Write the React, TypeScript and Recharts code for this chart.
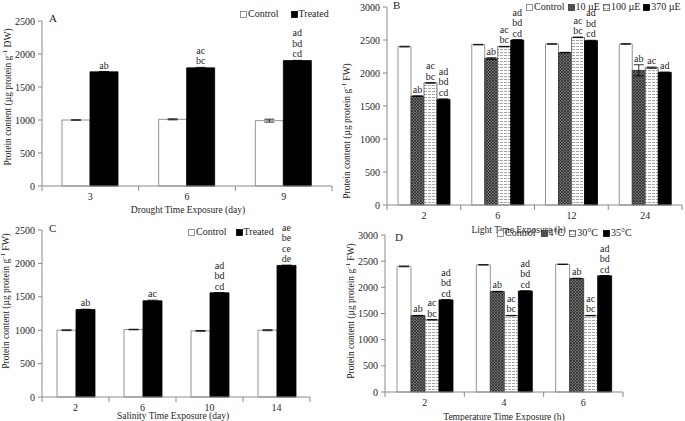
import React from 'react';
import { BarChart, Bar, XAxis, YAxis, ErrorBar, LabelList } from 'recharts';

const FONT = '"Liberation Serif", "Times New Roman", serif';
const AXIS = '#8a8a8a';
const INK = '#262626';

// A - drought
const droughtDays = ['3', '6', '9'];
const droughtControl = [1000, 1010, 990];
const droughtTreated = [1730, 1790, 1900];
const droughtControlErr = [4, 8, 22];
const droughtTreatedErr = [4, 8, 4];
const droughtMarks = ['ab', 'ac\nbc', 'ad\nbd\ncd'];

// B - light
const lightHours = ['2', '6', '12', '24'];
const lightControl = [2400, 2430, 2440, 2440];
const light10 = [1650, 2220, 2310, 2040];
const light100 = [1850, 2400, 2540, 2080];
const light370 = [1600, 2500, 2490, 2010];
const lightControlErr = [6, 4, 4, 4];
const light10Err = [4, 12, 4, 85];
const light100Err = [4, 4, 4, 10];
const light370Err = [8, 6, 6, 4];
const light10Marks = ['ab', 'ab', '', 'ab'];
const light100Marks = ['ac\nbc', 'ac\nbc', 'ac\nbc', 'ac'];
const light370Marks = ['ad\nbd\ncd', 'ad\nbd\ncd', 'ad\nbd\ncd', 'ad'];

// C - salinity
const salinityDays = ['2', '6', '10', '14'];
const salinityControl = [1000, 1010, 990, 1000];
const salinityTreated = [1310, 1440, 1560, 1970];
const salinityControlErr = [6, 4, 6, 8];
const salinityTreatedErr = [4, 10, 4, 4];
const salinityMarks = ['ab', 'ac', 'ad\nbd\ncd', 'ae\nbe\nce\nde'];

// D - temperature
const tempHours = ['2', '4', '6'];
const tempControl = [2400, 2430, 2440];
const temp4 = [1460, 1920, 2170];
const temp30 = [1380, 1460, 1460];
const temp35 = [1760, 1930, 2220];
const tempControlErr = [8, 4, 4];
const temp4Err = [4, 4, 4];
const temp30Err = [4, 4, 4];
const temp35Err = [4, 4, 4];
const temp4Marks = ['ab', 'ab', 'ab'];
const temp30Marks = ['ac\nbc', 'ac\nbc', 'ac\nbc'];
const temp35Marks = ['ad\nbd\ncd', 'ad\nbd\ncd', 'ad\nbd\ncd'];

const ticks2500 = [0, 500, 1000, 1500, 2000, 2500];
const ticks3000 = [0, 500, 1000, 1500, 2000, 2500, 3000];

type Series = {
  name: string;
  values: number[];
  errors: number[];
  marks: string[];
  fill: string;
  stroke: string;
};

const white = { fill: '#ffffff', stroke: '#7a7a7a' };
const black = { fill: '#000000', stroke: '#000000' };
const hatch = { fill: 'url(#hatchDark)', stroke: '#333333' };
const stripe = { fill: 'url(#stripeLight)', stroke: '#555555' };

const none = (n: number) => Array(n).fill('');

const markLabel = (s: Series) => (props: any) => {
  const { x, y, width, height, index } = props;
  const mark = s.marks[index];
  if (!mark) return null;
  const val = s.values[index];
  const errPx = val ? (s.errors[index] * Math.abs(height)) / val : 0;
  const lines = mark.split('\n');
  const base = y - 3 - errPx;
  const cx = x + width / 2;
  return (
    <text textAnchor="middle" fontSize={10} fontFamily={FONT} fill={INK}>
      {lines.map((ln: string, k: number) => (
        <tspan key={k} x={cx} y={base - (lines.length - 1 - k) * 10.5}>
          {ln}
        </tspan>
      ))}
    </text>
  );
};

function Swatch({ fill, stroke }: { fill: string; stroke: string }) {
  return (
    <svg width={7} height={7} style={{ marginRight: 1 }}>
      <rect x={0.5} y={0.5} width={6} height={6} fill={fill} stroke={stroke} strokeWidth={0.8} />
    </svg>
  );
}

interface PanelProps {
  left: number;
  top: number;
  width: number;
  height: number;
  margin: { top: number; right: number; bottom: number; left: number };
  yAxisWidth: number;
  xAxisHeight: number;
  barSize: number;
  categories: string[];
  series: Series[];
  yMax: number;
  yTicks: number[];
  letter: string;
  letterPos: [number, number];
  legendPos: [number, number];
  legendGap: number;
  xTitle: string;
  xTitleDx: number;
  xTitleDy: number;
  unit: string;
  yTitlePos: [number, number];
}

function Panel(p: PanelProps) {
  const rows = p.categories.map((cat, i) => {
    const row: Record<string, string | number> = { cat };
    p.series.forEach((s, j) => {
      row[`v${j}`] = s.values[i];
      row[`e${j}`] = s.errors[i];
      row[`m${j}`] = s.marks[i];
    });
    return row;
  });
  const plotX = p.margin.left + p.yAxisWidth;
  const plotW = p.width - plotX - p.margin.right;
  const band = plotW / p.categories.length;
  const axisY = p.height - p.margin.bottom - p.xAxisHeight;
  const n = p.categories.length;

  const xTick = (props: any) => {
    const { x, payload, index } = props;
    return (
      <g>
        <line x1={x - band / 2} x2={x - band / 2} y1={axisY} y2={axisY + 5} stroke={AXIS} />
        {index === n - 1 && (
          <line x1={x + band / 2} x2={x + band / 2} y1={axisY} y2={axisY + 5} stroke={AXIS} />
        )}
        <text x={x} y={axisY + 14} textAnchor="middle" fontSize={10} fontFamily={FONT} fill={INK}>
          {payload.value}
        </text>
      </g>
    );
  };

  const xTitle = () => (
    <text
      x={plotX + plotW / 2 + p.xTitleDx}
      y={axisY + p.xTitleDy}
      textAnchor="middle"
      fontSize={9.5}
      fontFamily={FONT}
      fill={INK}
    >
      {p.xTitle}
    </text>
  );

  const [tx, ty] = p.yTitlePos;
  const yTitle = () => (
    <text
      x={tx}
      y={ty}
      transform={`rotate(-90 ${tx} ${ty})`}
      textAnchor="middle"
      dominantBaseline="central"
      fontSize={9.5}
      fontFamily={FONT}
      fill={INK}
    >
      Protein content (µg protein g
      <tspan fontSize={7} dy={-3.5}>-1</tspan>
      <tspan dy={3.5}> {p.unit})</tspan>
    </text>
  );

  return (
    <div style={{ position: 'absolute', left: p.left, top: p.top, width: p.width, height: p.height }}>
      <BarChart
        width={p.width}
        height={p.height}
        data={rows}
        margin={p.margin}
        barSize={p.barSize}
        barGap={0}
      >
        <XAxis
          dataKey="cat"
          height={p.xAxisHeight}
          stroke={AXIS}
          tickLine={false}
          tickSize={0}
          tickMargin={0}
          interval={0}
          tick={xTick}
          label={{ content: xTitle }}
        />
        <YAxis
          width={p.yAxisWidth}
          domain={[0, p.yMax]}
          ticks={p.yTicks}
          interval={0}
          stroke={AXIS}
          tickSize={4}
          tickMargin={3}
          tick={{ fontSize: 10, fill: INK, fontFamily: FONT }}
          label={{ content: yTitle }}
        />
        {p.series.map((s, j) => (
          <Bar
            key={s.name}
            dataKey={`v${j}`}
            name={s.name}
            fill={s.fill}
            stroke={s.stroke}
            strokeWidth={0.8}
            isAnimationActive={false}
          >
            <ErrorBar dataKey={`e${j}`} width={5} stroke="#000" strokeWidth={0.8} />
            <LabelList dataKey={`m${j}`} content={markLabel(s)} />
          </Bar>
        ))}
      </BarChart>
      <div
        style={{
          position: 'absolute',
          left: p.letterPos[0],
          top: p.letterPos[1] - 6,
          fontFamily: FONT,
          fontSize: 11,
          lineHeight: '12px',
          color: INK,
        }}
      >
        {p.letter}
      </div>
      <div
        style={{
          position: 'absolute',
          left: p.legendPos[0],
          top: p.legendPos[1] - 6,
          display: 'flex',
          gap: p.legendGap,
          fontFamily: FONT,
          fontSize: 10,
          lineHeight: '12px',
          color: INK,
          whiteSpace: 'nowrap',
        }}
      >
        {p.series.map((s) => (
          <span key={s.name} style={{ display: 'flex', alignItems: 'center' }}>
            <Swatch fill={s.fill} stroke={s.stroke} />
            {s.name}
          </span>
        ))}
      </div>
    </div>
  );
}

export default function App() {
  const droughtSeries: Series[] = [
    { name: 'Control', values: droughtControl, errors: droughtControlErr, marks: none(3), ...white },
    { name: 'Treated', values: droughtTreated, errors: droughtTreatedErr, marks: droughtMarks, ...black },
  ];
  const lightSeries: Series[] = [
    { name: 'Control', values: lightControl, errors: lightControlErr, marks: none(4), ...white },
    { name: '10 µE', values: light10, errors: light10Err, marks: light10Marks, ...hatch },
    { name: '100 µE', values: light100, errors: light100Err, marks: light100Marks, ...stripe },
    { name: '370 µE', values: light370, errors: light370Err, marks: light370Marks, ...black },
  ];
  const salinitySeries: Series[] = [
    { name: 'Control', values: salinityControl, errors: salinityControlErr, marks: none(4), ...white },
    { name: 'Treated', values: salinityTreated, errors: salinityTreatedErr, marks: salinityMarks, ...black },
  ];
  const tempSeries: Series[] = [
    { name: 'Control', values: tempControl, errors: tempControlErr, marks: none(3), ...white },
    { name: '4°C', values: temp4, errors: temp4Err, marks: temp4Marks, ...hatch },
    { name: '30°C', values: temp30, errors: temp30Err, marks: temp30Marks, ...stripe },
    { name: '35°C', values: temp35, errors: temp35Err, marks: temp35Marks, ...black },
  ];

  return (
    <div style={{ position: 'absolute', left: 0, top: 0, width: 685, height: 421, background: '#fff' }}>
      <svg width={0} height={0} style={{ position: 'absolute' }}>
        <defs>
          <pattern id="hatchDark" width={3} height={3} patternUnits="userSpaceOnUse">
            <rect width={3} height={3} fill="#6e6e6e" />
            <path
              d="M0,3 L3,0 M-1,1 L1,-1 M2,4 L4,2 M0,0 L3,3 M-1,2 L1,4 M2,-1 L4,1"
              stroke="#262626"
              strokeWidth={0.7}
            />
          </pattern>
          <pattern id="stripeLight" width={4} height={3} patternUnits="userSpaceOnUse">
            <rect width={4} height={3} fill="#ffffff" />
            <line x1={0} y1={1.5} x2={3} y2={1.5} stroke="#9a9a9a" strokeWidth={0.9} />
          </pattern>
        </defs>
      </svg>
      <Panel
        left={0}
        top={0}
        width={340}
        height={215}
        margin={{ top: 21, right: 8, bottom: 0, left: 0 }}
        yAxisWidth={42}
        xAxisHeight={29}
        barSize={28}
        categories={droughtDays}
        series={droughtSeries}
        yMax={2500}
        yTicks={ticks2500}
        letter="A"
        letterPos={[49, 18]}
        legendPos={[240, 14]}
        legendGap={12}
        xTitle="Drought Time Exposure (day)"
        xTitleDx={1}
        xTitleDy={26.5}
        unit="DW"
        yTitlePos={[8, 97]}
      />
      <Panel
        left={340}
        top={0}
        width={345}
        height={240}
        margin={{ top: 7, right: 3, bottom: 0, left: 0 }}
        yAxisWidth={47}
        xAxisHeight={35}
        barSize={13}
        categories={lightHours}
        series={lightSeries}
        yMax={3000}
        yTicks={ticks3000}
        letter="B"
        letterPos={[53, 5]}
        legendPos={[186, 7]}
        legendGap={3}
        xTitle="Light Time Exposure (h)"
        xTitleDx={-16}
        xTitleDy={28}
        unit="FW"
        yTitlePos={[7, 131]}
      />
      <Panel
        left={0}
        top={205}
        width={340}
        height={216}
        margin={{ top: 25, right: 30, bottom: 0, left: 0 }}
        yAxisWidth={42}
        xAxisHeight={24}
        barSize={19}
        categories={salinityDays}
        series={salinitySeries}
        yMax={2500}
        yTicks={ticks2500}
        letter="C"
        letterPos={[49, 23]}
        legendPos={[188, 27]}
        legendGap={9}
        xTitle="Salinity Time Exposure (day)"
        xTitleDx={-3}
        xTitleDy={22}
        unit="FW"
        yTitlePos={[6, 96]}
      />
      <Panel
        left={340}
        top={205}
        width={345}
        height={216}
        margin={{ top: 30, right: 62, bottom: 0, left: 0 }}
        yAxisWidth={45}
        xAxisHeight={29}
        barSize={14}
        categories={tempHours}
        series={tempSeries}
        yMax={3000}
        yTicks={ticks3000}
        letter="D"
        letterPos={[55, 32]}
        legendPos={[157, 28]}
        legendGap={5}
        xTitle="Temperature Time Exposure (h)"
        xTitleDx={0}
        xTitleDy={28}
        unit="FW"
        yTitlePos={[11, 106]}
      />
    </div>
  );
}
